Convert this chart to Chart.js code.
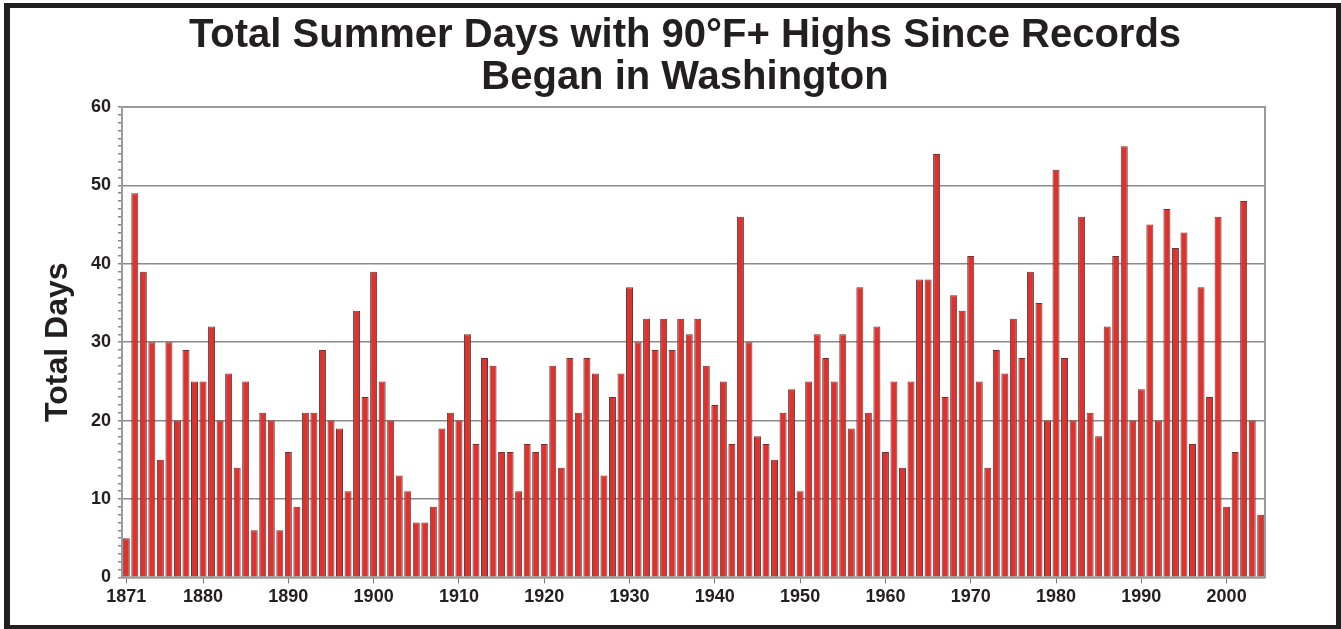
<!DOCTYPE html>
<html>
<head>
<meta charset="utf-8">
<script src="https://cdn.jsdelivr.net/npm/chart.js@4"></script>
<style>
    body { margin: 0; background: #fff; }
    #frame {
        position: absolute;
        left: 4px;
        top: 3px;
        width: 1337px;
        height: 626px;
        box-sizing: border-box;
        border-style: solid;
        border-color: #231f20;
        border-width: 5px 5px 4px 6px;
        background: #fff;
    }
    #box { position: relative; width: 1326px; height: 617px; }
</style>
</head>
<body>
<div id="frame">
    <div id="box"><canvas id="myChart"></canvas></div>
</div>
<script>
// days with highs of 90F or more, one value per summer starting 1871
const firstYear = 1871;
const days = [
    5, 49, 39, 30, 15, 30, 20, 29, 25, 25,   // 1871-1880
    32, 20, 26, 14, 25, 6, 21, 20, 6, 16,    // 1881-1890
    9, 21, 21, 29, 20, 19, 11, 34, 23, 39,   // 1891-1900
    25, 20, 13, 11, 7, 7, 9, 19, 21, 20,     // 1901-1910
    31, 17, 28, 27, 16, 16, 11, 17, 16, 17,  // 1911-1920
    27, 14, 28, 21, 28, 26, 13, 23, 26, 37,  // 1921-1930
    30, 33, 29, 33, 29, 33, 31, 33, 27, 22,  // 1931-1940
    25, 17, 46, 30, 18, 17, 15, 21, 24, 11,  // 1941-1950
    25, 31, 28, 25, 31, 19, 37, 21, 32, 16,  // 1951-1960
    25, 14, 25, 38, 38, 54, 23, 36, 34, 41,  // 1961-1970
    25, 14, 29, 26, 33, 28, 39, 35, 20, 52,  // 1971-1980
    28, 20, 46, 21, 18, 32, 41, 55, 20, 24,  // 1981-1990
    45, 20, 47, 42, 44, 17, 37, 23, 46, 9,   // 1991-2000
    16, 48, 20, 8                            // 2001-2004
];
const years = days.map((d, i) => String(firstYear + i));

// years that get a label and tick mark on the x axis
const labelledYears = ['1871', '1880', '1890', '1900', '1910', '1920', '1930', '1940', '1950', '1960', '1970', '1980', '1990', '2000'];

const yMin = 0;
const yMax = 60;
const yMajorStep = 10;

const textColor = '#231f20';
const fontFamily = "'Liberation Sans', Arial, Helvetica, sans-serif";

// border round the plot area (top and right side too)
const plotBorder = {
    id: 'plotBorder',
    afterDatasetsDraw(chart) {
        const a = chart.chartArea;
        const c = chart.ctx;
        c.save();
        c.strokeStyle = '#9a9a9a';
        c.lineWidth = 2;
        c.strokeRect(a.left, a.top, a.right - a.left, a.bottom - a.top);
        c.restore();
    }
};

const ctx = document.getElementById('myChart').getContext('2d');

const myChart = new Chart(ctx, {
    type: 'bar',
    data: {
        labels: years,
        datasets: [{
            label: 'Total Days',
            data: days,
            backgroundColor: '#e2302d',
            borderColor: '#444',
            borderWidth: 1,
            barPercentage: 0.82,
            categoryPercentage: 1
        }]
    },
    options: {
        responsive: true,
        maintainAspectRatio: false,
        animation: false,
        layout: {
            padding: { left: 24, right: 0, top: 0, bottom: 14 }
        },
        plugins: {
            legend: { display: false },
            tooltip: { enabled: false },
            title: {
                display: true,
                text: ['Total Summer Days with 90\u00b0F+ Highs Since Records', 'Began in Washington'],
                color: textColor,
                font: { family: fontFamily, size: 40, weight: 'bold', lineHeight: 1.05 },
                padding: { top: 7, bottom: 8 }
            }
        },
        scales: {
            x: {
                offset: true,
                grid: {
                    offset: false,
                    drawOnChartArea: false,
                    tickLength: 6,
                    tickColor: (c) => labelledYears.includes(years[c.index]) ? '#777' : 'rgba(0,0,0,0)'
                },
                border: { display: true, color: '#777', width: 1 },
                ticks: {
                    autoSkip: false,
                    maxRotation: 0,
                    padding: 3,
                    color: textColor,
                    font: { family: fontFamily, size: 18, weight: 'bold' },
                    callback: function(value) {
                        const y = this.getLabelForValue(value);
                        return labelledYears.includes(y) ? y : '';
                    }
                }
            },
            y: {
                min: yMin,
                max: yMax,
                afterFit: (scale) => { scale.width = 88; },
                title: {
                    display: true,
                    text: 'Total Days',
                    color: textColor,
                    font: { family: fontFamily, size: 32, weight: 'bold' },
                    padding: { top: 5, bottom: 0 }
                },
                grid: {
                    color: (c) => c.tick && c.tick.value % yMajorStep === 0 ? '#8a8a8a' : 'rgba(0,0,0,0)',
                    lineWidth: 1.5,
                    tickColor: '#888',
                    tickLength: 4
                },
                border: { display: true, color: '#777', width: 1 },
                ticks: {
                    stepSize: 1,
                    maxTicksLimit: 100,
                    autoSkip: false,
                    padding: 7,
                    color: textColor,
                    font: { family: fontFamily, size: 18, weight: 'bold' },
                    callback: (v) => v % yMajorStep === 0 ? v : ''
                }
            },
            // empty axis that only keeps the white space right of the plot
            yRight: {
                position: 'right',
                display: true,
                afterFit: (scale) => { scale.width = 71; },
                grid: { display: false },
                border: { display: false },
                ticks: { display: false }
            }
        }
    },
    plugins: [plotBorder]
});
</script>
</body>
</html>
